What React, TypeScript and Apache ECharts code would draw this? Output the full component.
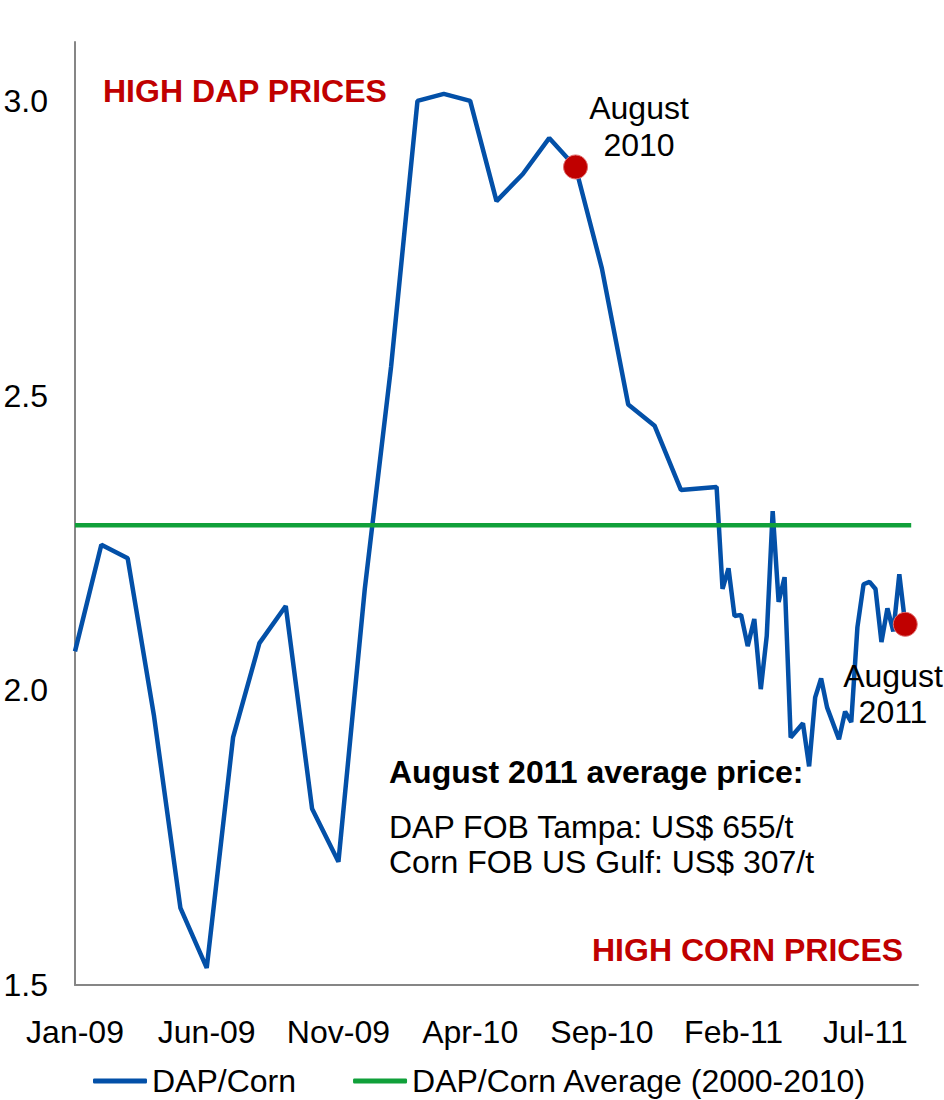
import React, { useEffect, useRef } from "react";
import * as echarts from "echarts";

// ---------- data ----------
const dapCornDates = [
  "2009-01-01", "2009-02-01", "2009-03-01", "2009-04-01", "2009-05-01", "2009-06-01",
  "2009-07-01", "2009-08-01", "2009-09-01", "2009-10-01", "2009-11-01", "2009-12-01",
  "2010-01-01", "2010-02-01", "2010-03-01", "2010-04-01", "2010-05-01", "2010-06-01",
  "2010-07-01", "2010-08-01", "2010-09-01", "2010-10-01", "2010-11-01", "2010-12-01",
  "2011-01-12", "2011-01-19", "2011-01-26", "2011-02-02", "2011-02-09", "2011-02-16",
  "2011-02-23", "2011-03-02", "2011-03-09", "2011-03-16", "2011-03-23", "2011-03-30",
  "2011-04-06", "2011-04-20", "2011-04-27", "2011-05-04", "2011-05-11", "2011-05-18",
  "2011-06-01", "2011-06-08", "2011-06-15", "2011-06-22", "2011-06-29", "2011-07-06",
  "2011-07-13", "2011-07-20", "2011-07-27", "2011-08-03", "2011-08-10", "2011-08-17",
];
const dapCornValues = [
  2.066, 2.247, 2.224, 1.956, 1.631, 1.529,
  1.92, 2.08, 2.143, 1.799, 1.709, 2.172,
  2.55, 3.0, 3.012, 3.0, 2.83, 2.876,
  2.937, 2.888, 2.716, 2.485, 2.449, 2.34,
  2.345, 2.172, 2.207, 2.126, 2.128, 2.075,
  2.121, 2.002, 2.092, 2.304, 2.15, 2.192,
  1.92, 1.944, 1.871, 1.988, 2.02, 1.971,
  1.917, 1.964, 1.946, 2.107, 2.18, 2.184,
  2.172, 2.082, 2.139, 2.1, 2.197, 2.112,
];
const averageDates = ["2009-01-01", "2011-08-24"];
const averageValues = [2.28, 2.28];
const highlightDates = ["2010-08-01", "2011-08-17"];
const xTickLabels = ["Jan-09", "Jun-09", "Nov-09", "Apr-10", "Sep-10", "Feb-11", "Jul-11"];
const seriesNames = ["DAP/Corn", "DAP/Corn Average (2000-2010)"];

// ---------- helpers ----------
const FONT = "'Liberation Sans', Arial, Helvetica, sans-serif";
const BLUE = "#0350A8";
const GREEN = "#10A03A";
const RED = "#C00000";

function monthIndex(d: string): number {
  const [y, m, dd] = d.split("-").map(Number);
  const days = new Date(y, m, 0).getDate();
  return (y - 2009) * 12 + (m - 1) + (dd - 1) / days;
}

export default function App() {
  const ref = useRef<HTMLDivElement>(null);

  useEffect(() => {
    document.body.style.margin = "0";
    if (!ref.current) return;
    const chart = echarts.init(ref.current, undefined, { renderer: "svg" });

    const blueData = dapCornDates.map((d, i) => [monthIndex(d), dapCornValues[i]]);
    const greenData = averageDates.map((d, i) => [monthIndex(d), averageValues[i]]);
    const dotData = highlightDates.map((d) => {
      const i = dapCornDates.indexOf(d);
      return [monthIndex(d), dapCornValues[i]];
    });

    const txt = (text: string, x: number, y: number, opts: any = {}) => ({
      type: "text",
      x,
      y,
      z: 100,
      style: {
        text,
        fill: opts.fill || "#000",
        font: `${opts.bold ? "bold " : ""}${opts.size || 32}px ${FONT}`,
        align: opts.align || "left",
        verticalAlign: "middle",
      },
    });

    chart.setOption({
      animation: false,
      textStyle: { fontFamily: FONT },
      grid: { left: 75, right: 26, top: 42, bottom: 115, containLabel: false },
      xAxis: {
        type: "value",
        min: 0,
        max: 32,
        interval: 5,
        axisLine: { show: true, onZero: false, lineStyle: { color: "#868686", width: 2 } },
        axisTick: { show: false },
        splitLine: { show: false },
        axisLabel: {
          fontSize: 32,
          color: "#000",
          fontFamily: FONT,
          margin: 31,
          showMaxLabel: false,
          formatter: (v: number) => (v % 5 === 0 ? xTickLabels[v / 5] ?? "" : ""),
        },
      },
      yAxis: {
        type: "value",
        min: 1.5,
        max: 3.1,
        interval: 0.5,
        axisLine: { show: true, lineStyle: { color: "#868686", width: 2 } },
        axisTick: { show: false },
        splitLine: { show: false },
        axisLabel: {
          fontSize: 32,
          color: "#000",
          fontFamily: FONT,
          margin: 27,
          showMaxLabel: false,
          formatter: (v: number) => v.toFixed(1),
        },
      },
      legend: {
        data: seriesNames,
        left: 93,
        top: 1065,
        padding: 0,
        itemWidth: 54,
        itemHeight: 5,
        itemGap: 57,
        icon: "roundRect",
        textStyle: { fontSize: 32, color: "#000", fontFamily: FONT },
      },
      series: [
        {
          name: seriesNames[0],
          type: "line",
          data: blueData,
          showSymbol: false,
          symbol: "none",
          lineStyle: { color: BLUE, width: 4.5 },
          itemStyle: { color: BLUE },
          z: 2,
        },
        {
          name: seriesNames[1],
          type: "line",
          data: greenData,
          showSymbol: false,
          symbol: "none",
          lineStyle: { color: GREEN, width: 4.5 },
          itemStyle: { color: GREEN },
          z: 3,
        },
        {
          name: "highlight",
          type: "scatter",
          data: dotData,
          symbolSize: 24,
          itemStyle: {
            color: RED,
            opacity: 1,
            borderColor: "rgba(225,110,110,1)",
            borderWidth: 1,
          },
          z: 5,
        },
      ],
      graphic: [
        txt("HIGH DAP PRICES", 103, 91, { bold: true, size: 32, fill: RED }),
        txt("HIGH CORN PRICES", 592, 950, { bold: true, size: 32, fill: RED }),
        txt("August", 639, 108, { align: "center" }),
        txt("2010", 639, 145, { align: "center" }),
        txt("August", 893, 676, { align: "center" }),
        txt("2011", 893, 712, { align: "center" }),
        txt("August 2011 average price:", 389, 772, { bold: true, size: 32 }),
        txt("DAP FOB Tampa: US$ 655/t", 389, 827),
        txt("Corn FOB US Gulf: US$ 307/t", 389, 862),
      ],
    });

    return () => chart.dispose();
  }, []);

  return <div ref={ref} style={{ width: 944, height: 1100 }} />;
}
